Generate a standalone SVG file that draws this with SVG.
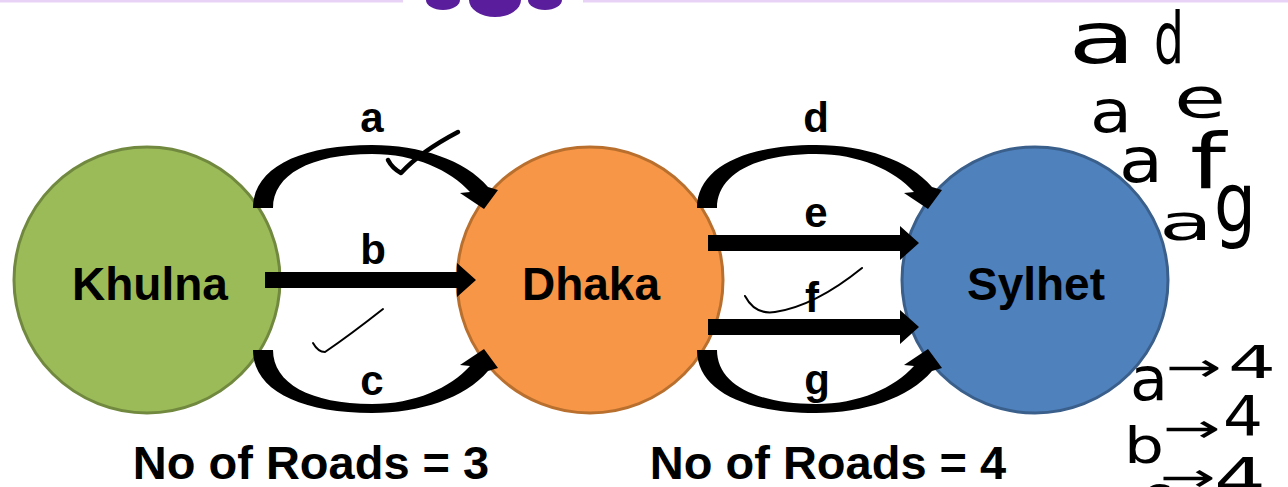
<svg xmlns="http://www.w3.org/2000/svg" width="1288" height="487" viewBox="0 0 1288 487">
<style>
.node{stroke-width:3}
.nlabel{font-family:"Liberation Sans",Arial,sans-serif;font-weight:bold;font-size:46px;text-anchor:middle;fill:#000}
.elabel{font-family:"Liberation Sans",Arial,sans-serif;font-weight:bold;font-size:42px;text-anchor:middle;fill:#000}
.count{font-family:"Liberation Sans",Arial,sans-serif;font-weight:bold;font-size:47px;text-anchor:middle;fill:#000}
.hand{font-family:"DejaVu Sans",sans-serif;fill:#000}
.ink{fill:none;stroke:#000;stroke-linecap:round;stroke-linejoin:round}
.arrow{fill:#000}
</style>
<defs>
<path id="arc" d="M253 208 C253 168 300 145 372 145 C420 145 465 160 488 187 L498 190 L484 209 L460 193 L470 192 C450 170 415 154 372 154 C310 154 273 175 273 208 Z"/>
</defs>
<g id="header">
<line x1="0" y1="1" x2="403" y2="1" stroke="#E8D3F6" stroke-width="3"/>
<line x1="583" y1="1" x2="1288" y2="1" stroke="#E8D3F6" stroke-width="3"/>
<ellipse cx="443" cy="0" rx="17" ry="10" fill="#5A1E9C"/>
<ellipse cx="495" cy="0" rx="26" ry="17" fill="#5A1E9C"/>
<ellipse cx="545" cy="0" rx="17" ry="10" fill="#5A1E9C"/>
</g>
<g id="node-khulna">
<circle class="node" cx="147" cy="280" r="133" fill="#9BBB59" stroke="#71893F"/>
<text class="nlabel" x="150" y="300">Khulna</text>
</g>
<g id="node-dhaka">
<circle class="node" cx="590" cy="280" r="133" fill="#F79646" stroke="#B9702F"/>
<text class="nlabel" x="591" y="300">Dhaka</text>
</g>
<g id="node-sylhet">
<circle class="node" cx="1035" cy="280" r="133" fill="#4F81BD" stroke="#3A5F8B"/>
<text class="nlabel" x="1036" y="300">Sylhet</text>
</g>
<g id="connectors">
<use href="#arc" class="arrow"/>
<path class="arrow" d="M265 272 H457 V263 L476 280 L457 297 V288 H265 Z"/>
<use href="#arc" class="arrow" transform="matrix(1 0 0 -1 0 558)"/>
<use href="#arc" class="arrow" transform="translate(444 0)"/>
<path class="arrow" d="M708 235 H900 V226 L919 243 L900 260 V251 H708 Z"/>
<path class="arrow" d="M708 319 H900 V310 L919 327 L900 344 V335 H708 Z"/>
<use href="#arc" class="arrow" transform="matrix(1 0 0 -1 444 558)"/>
</g>
<g id="edge-labels">
<text class="elabel" x="372" y="132">a</text>
<text class="elabel" x="373" y="264">b</text>
<text class="elabel" x="372" y="395">c</text>
<text class="elabel" x="816" y="132">d</text>
<text class="elabel" x="816" y="227">e</text>
<text class="elabel" x="812" y="312">f</text>
<text class="elabel" x="817" y="394">g</text>
</g>
<g id="counts">
<text class="count" x="311" y="479">No of Roads = 3</text>
<text class="count" x="828" y="479">No of Roads = 4</text>
</g>
<g id="annotations">
<path class="ink" stroke-width="4.5" d="M388 160 Q392 168 401 173 Q420 152 458 132"/>
<path class="ink" stroke-width="2" d="M313 343 Q318 352 325 352 Q350 335 383 309"/>
<path class="ink" stroke-width="2" d="M745 296 Q755 315 775 312 Q815 306 862 268"/>
<text class="hand" x="1068" y="63" font-size="72" textLength="68" lengthAdjust="spacingAndGlyphs">a</text>
<text class="hand" x="1154" y="63" font-size="72" textLength="30" lengthAdjust="spacingAndGlyphs">d</text>
<text class="hand" x="1090" y="132" font-size="58" textLength="42" lengthAdjust="spacingAndGlyphs">a</text>
<text class="hand" x="1174" y="117" font-size="56" textLength="52" lengthAdjust="spacingAndGlyphs">e</text>
<text class="hand" x="1119" y="182" font-size="62" textLength="44" lengthAdjust="spacingAndGlyphs">a</text>
<text class="hand" x="1190" y="188" font-size="76" textLength="36" lengthAdjust="spacingAndGlyphs">f</text>
<text class="hand" x="1159" y="240" font-size="50" textLength="54" lengthAdjust="spacingAndGlyphs">a</text>
<text class="hand" x="1214" y="232" font-size="84" textLength="42" lengthAdjust="spacingAndGlyphs">g</text>
<text class="hand" x="1130" y="400" font-size="60" textLength="38" lengthAdjust="spacingAndGlyphs">a</text>
<text class="hand" x="1166" y="381" font-size="40" textLength="56" lengthAdjust="spacingAndGlyphs">→</text>
<text class="hand" x="1228" y="378" font-size="45" textLength="48" lengthAdjust="spacingAndGlyphs">4</text>
<text class="hand" x="1124" y="463" font-size="50" textLength="40" lengthAdjust="spacingAndGlyphs">b</text>
<text class="hand" x="1163" y="442" font-size="40" textLength="58" lengthAdjust="spacingAndGlyphs">→</text>
<text class="hand" x="1223" y="435" font-size="56" textLength="40" lengthAdjust="spacingAndGlyphs">4</text>
<text class="hand" x="1140" y="518" font-size="60">c</text>
<text class="hand" x="1160" y="491" font-size="40" textLength="56" lengthAdjust="spacingAndGlyphs">→</text>
<text class="hand" x="1214" y="497" font-size="56" textLength="52" lengthAdjust="spacingAndGlyphs">4</text>
</g>
</svg>
